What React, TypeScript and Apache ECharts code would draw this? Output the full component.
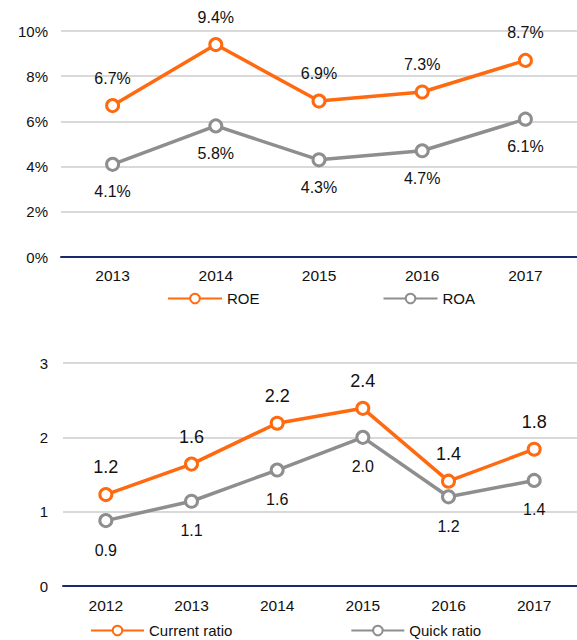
import React, { useEffect, useRef } from "react";
import * as echarts from "echarts";

const topYears = ["2013", "2014", "2015", "2016", "2017"];
const roe = [6.7, 9.4, 6.9, 7.3, 8.7];
const roa = [4.1, 5.8, 4.3, 4.7, 6.1];

const bottomYears = ["2012", "2013", "2014", "2015", "2016", "2017"];
const currentRatio = [1.23, 1.64, 2.19, 2.39, 1.41, 1.84];
const quickRatio = [0.88, 1.14, 1.56, 2.0, 1.2, 1.42];

const ORANGE = "#FF6A10";
const GRAY = "#8E8E8E";
const NAVY = "#1B2A6B";
const TEXT = "#111111";
const FONT = "'Liberation Sans', Arial, sans-serif";

export default function App() {
  const ref = useRef<HTMLDivElement>(null);
  useEffect(() => {
    if (!ref.current) return;
    const chart = echarts.init(ref.current, undefined, { renderer: "svg" });
    const lineSeries = (
      name: string,
      data: number[],
      color: string,
      xi: number,
      pos: string,
      dist: number,
      fs: number,
      fmt: (v: number) => string
    ) => ({
      name,
      type: "line",
      xAxisIndex: xi,
      yAxisIndex: xi,
      data,
      symbol: "circle",
      symbolSize: 12,
      showAllSymbol: true,
      lineStyle: { color, width: 3.5 },
      itemStyle: { color: "#fff", borderColor: color, borderWidth: 3 },
      label: {
        show: true,
        position: pos,
        distance: dist,
        fontSize: fs,
        fontFamily: FONT,
        color: TEXT,
        formatter: (p: any) => fmt(p.value),
      },
      emphasis: { disabled: true },
    });
    const xAxisBase = (gi: number, data: string[], margin: number) => ({
      type: "category",
      gridIndex: gi,
      data,
      axisTick: { show: false },
      axisLine: { show: true, lineStyle: { color: NAVY, width: 2 } },
      axisLabel: { fontSize: 15.5, color: TEXT, fontFamily: FONT, margin },
    });
    chart.setOption({
      animation: false,
      textStyle: { fontFamily: FONT },
      grid: [
        { left: 61, right: -9, top: 31, bottom: 383, containLabel: false },
        { left: 63, right: -14, top: 363, bottom: 54, containLabel: false },
      ],
      xAxis: [xAxisBase(0, topYears, 10), xAxisBase(1, bottomYears, 11)],
      yAxis: [
        {
          type: "value",
          gridIndex: 0,
          min: 0,
          max: 10,
          interval: 2,
          axisLine: { show: false },
          axisTick: { show: false },
          splitLine: { lineStyle: { color: "#D9D9D9", width: 2 } },
          axisLabel: { fontSize: 15, color: TEXT, fontFamily: FONT, margin: 13, formatter: "{value}%" },
        },
        {
          type: "value",
          gridIndex: 1,
          min: 0,
          max: 3,
          interval: 1,
          axisLine: { show: false },
          axisTick: { show: false },
          splitLine: { lineStyle: { color: "#D9D9D9", width: 2 } },
          axisLabel: { fontSize: 15, color: TEXT, fontFamily: FONT, margin: 15 },
        },
      ],
      legend: [
        {
          data: ["ROE", "ROA"],
          left: 167,
          top: 291,
          padding: 0,
          itemWidth: 54,
          itemHeight: 12,
          itemGap: 123,
          textStyle: { fontSize: 15, color: TEXT, fontFamily: FONT },
          selectedMode: false,
        },
        {
          data: ["Current ratio", "Quick ratio"],
          left: 90,
          top: 623,
          padding: 0,
          itemWidth: 53,
          itemHeight: 12,
          itemGap: 118,
          textStyle: { fontSize: 15, color: TEXT, fontFamily: FONT },
          selectedMode: false,
        },
      ],
      series: [
        lineSeries("ROE", roe, ORANGE, 0, "top", 12, 16, (v) => v.toFixed(1) + "%"),
        lineSeries("ROA", roa, GRAY, 0, "bottom", 12, 16, (v) => v.toFixed(1) + "%"),
        lineSeries("Current ratio", currentRatio, ORANGE, 1, "top", 11, 18, (v) => v.toFixed(1)),
        lineSeries("Quick ratio", quickRatio, GRAY, 1, "bottom", 14, 16, (v) => v.toFixed(1)),
      ],
    });
    return () => chart.dispose();
  }, []);
  return (
    <div
      ref={ref}
      style={{ position: "absolute", left: 0, top: 0, width: 577, height: 640, background: "#fff" }}
    />
  );
}
